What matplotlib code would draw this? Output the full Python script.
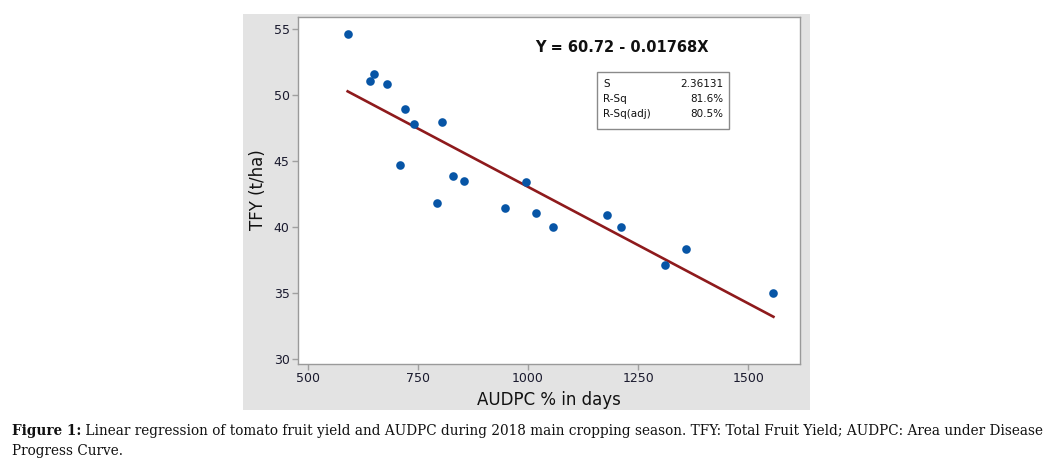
import matplotlib
matplotlib.use("Agg")
import matplotlib.pyplot as plt
import numpy as np
from matplotlib.patches import Rectangle

# Data
audpc = [590.7, 640.9, 650.6, 678.9, 720.2, 741.3, 803.6, 708.9, 829.6, 853.8,
         793.9, 947.8, 995.5, 1018.2, 1057.1, 1178.5, 1210.9, 1310.5, 1358.3, 1556.7]
tfy = [54.59, 51.04, 51.62, 50.81, 48.93, 47.82, 47.92, 44.67, 43.86, 43.48,
       41.83, 41.45, 43.38, 41.09, 39.97, 40.91, 39.97, 37.11, 38.32, 34.97]
intercept = 60.72
slope = -0.01768
x_ticks = [500, 750, 1000, 1250, 1500]
y_ticks = [30, 35, 40, 45, 50, 55]
stat_names = ["S", "R-Sq", "R-Sq(adj)"]
stat_values = ["2.36131", "81.6%", "80.5%"]
equation = "Y = 60.72 - 0.01768X"
caption_bold = "Figure 1:"
caption_line1 = " Linear regression of tomato fruit yield and AUDPC during 2018 main cropping season. TFY: Total Fruit Yield; AUDPC: Area under Disease"
caption_line2 = "Progress Curve."

W, H = 1046, 471
fig = plt.figure(figsize=(W / 100, H / 100), dpi=100)
fig.patch.set_facecolor("white")

def fx(px):
    return px / W

def fy(py):
    return 1 - py / H

# grey panel
panel = Rectangle((fx(243), fy(410)), fx(810) - fx(243), fy(14) - fy(410),
                  transform=fig.transFigure, facecolor="#E3E3E3",
                  edgecolor="none", zorder=-10)
fig.add_artist(panel)

ax = fig.add_axes([fx(298), fy(364), fx(800) - fx(298), fy(17) - fy(364)])
ax.set_zorder(1)
ax.set_facecolor("white")
ax.set_xlim(478, 1617)
ax.set_ylim(29.62, 55.91)

xs = np.array(audpc)
xl = np.linspace(xs.min(), xs.max(), 50)
ax.plot(xl, intercept + slope * xl, color="#8E1A1C", lw=1.9, zorder=2)
ax.plot(audpc, tfy, "o", color="#0755A6", markersize=6.2, markeredgewidth=0, zorder=3)

for s in ax.spines.values():
    s.set_color("#9A9A9A")
    s.set_linewidth(1.0)
ax.set_xticks(x_ticks)
ax.set_yticks(y_ticks)
ax.tick_params(direction="out", length=4, width=1, color="#A0A0A0",
               labelsize=9, labelcolor="#1A1A2E", pad=2)
for lab in ax.get_xticklabels() + ax.get_yticklabels():
    lab.set_family("DejaVu Sans")

fig.text(fx(549), fy(400), "AUDPC % in days", ha="center", va="center",
         fontsize=12, family="DejaVu Sans", color="#111111", zorder=5)
fig.text(fx(258), fy(190), "TFY (t/ha)", ha="center", va="center", rotation=90,
         fontsize=12, family="DejaVu Sans", color="#111111", zorder=5)

fig.text(fx(622), fy(47), equation, ha="center", va="center", fontsize=10.5,
         fontweight="bold", family="DejaVu Sans", color="#111111", zorder=5)

# stats box
box = Rectangle((fx(597), fy(129)), fx(729) - fx(597), fy(72) - fy(129),
                transform=fig.transFigure, facecolor="white",
                edgecolor="#8A8A8A", lw=1.0, zorder=5)
fig.add_artist(box)
row_y = [84, 99, 114]
for name, val, yy in zip(stat_names, stat_values, row_y):
    fig.text(fx(603), fy(yy), name, ha="left", va="center", fontsize=7.5,
             family="DejaVu Sans", color="#111111", zorder=6)
    fig.text(fx(723), fy(yy), val, ha="right", va="center", fontsize=7.5,
             family="DejaVu Sans", color="#111111", zorder=6)

# caption (font size fitted so that line 1 spans the page width like the reference)
fig.canvas.draw()
r = fig.canvas.get_renderer()
cap_fs = 10.0
serif = "DejaVu Serif"
tb = fig.text(fx(12), fy(431), caption_bold, ha="left", va="center", fontsize=cap_fs,
              fontweight="bold", family=serif, color="#111111")
bb = tb.get_window_extent(renderer=r)
t1 = fig.text(bb.x1 / W, fy(431), caption_line1, ha="left", va="center", fontsize=cap_fs,
              family=serif, color="#111111")
b1 = t1.get_window_extent(renderer=r)
scale = (1040 - 12) / (b1.x1 - 12)
cap_fs *= scale
tb.set_fontsize(cap_fs)
bb = tb.get_window_extent(renderer=r)
t1.set_fontsize(cap_fs)
t1.set_x(bb.x1 / W)
fig.text(fx(12), fy(451), caption_line2, ha="left", va="center", fontsize=cap_fs,
         family=serif, color="#111111")

fig.savefig("out.png", dpi=100, facecolor="white")
